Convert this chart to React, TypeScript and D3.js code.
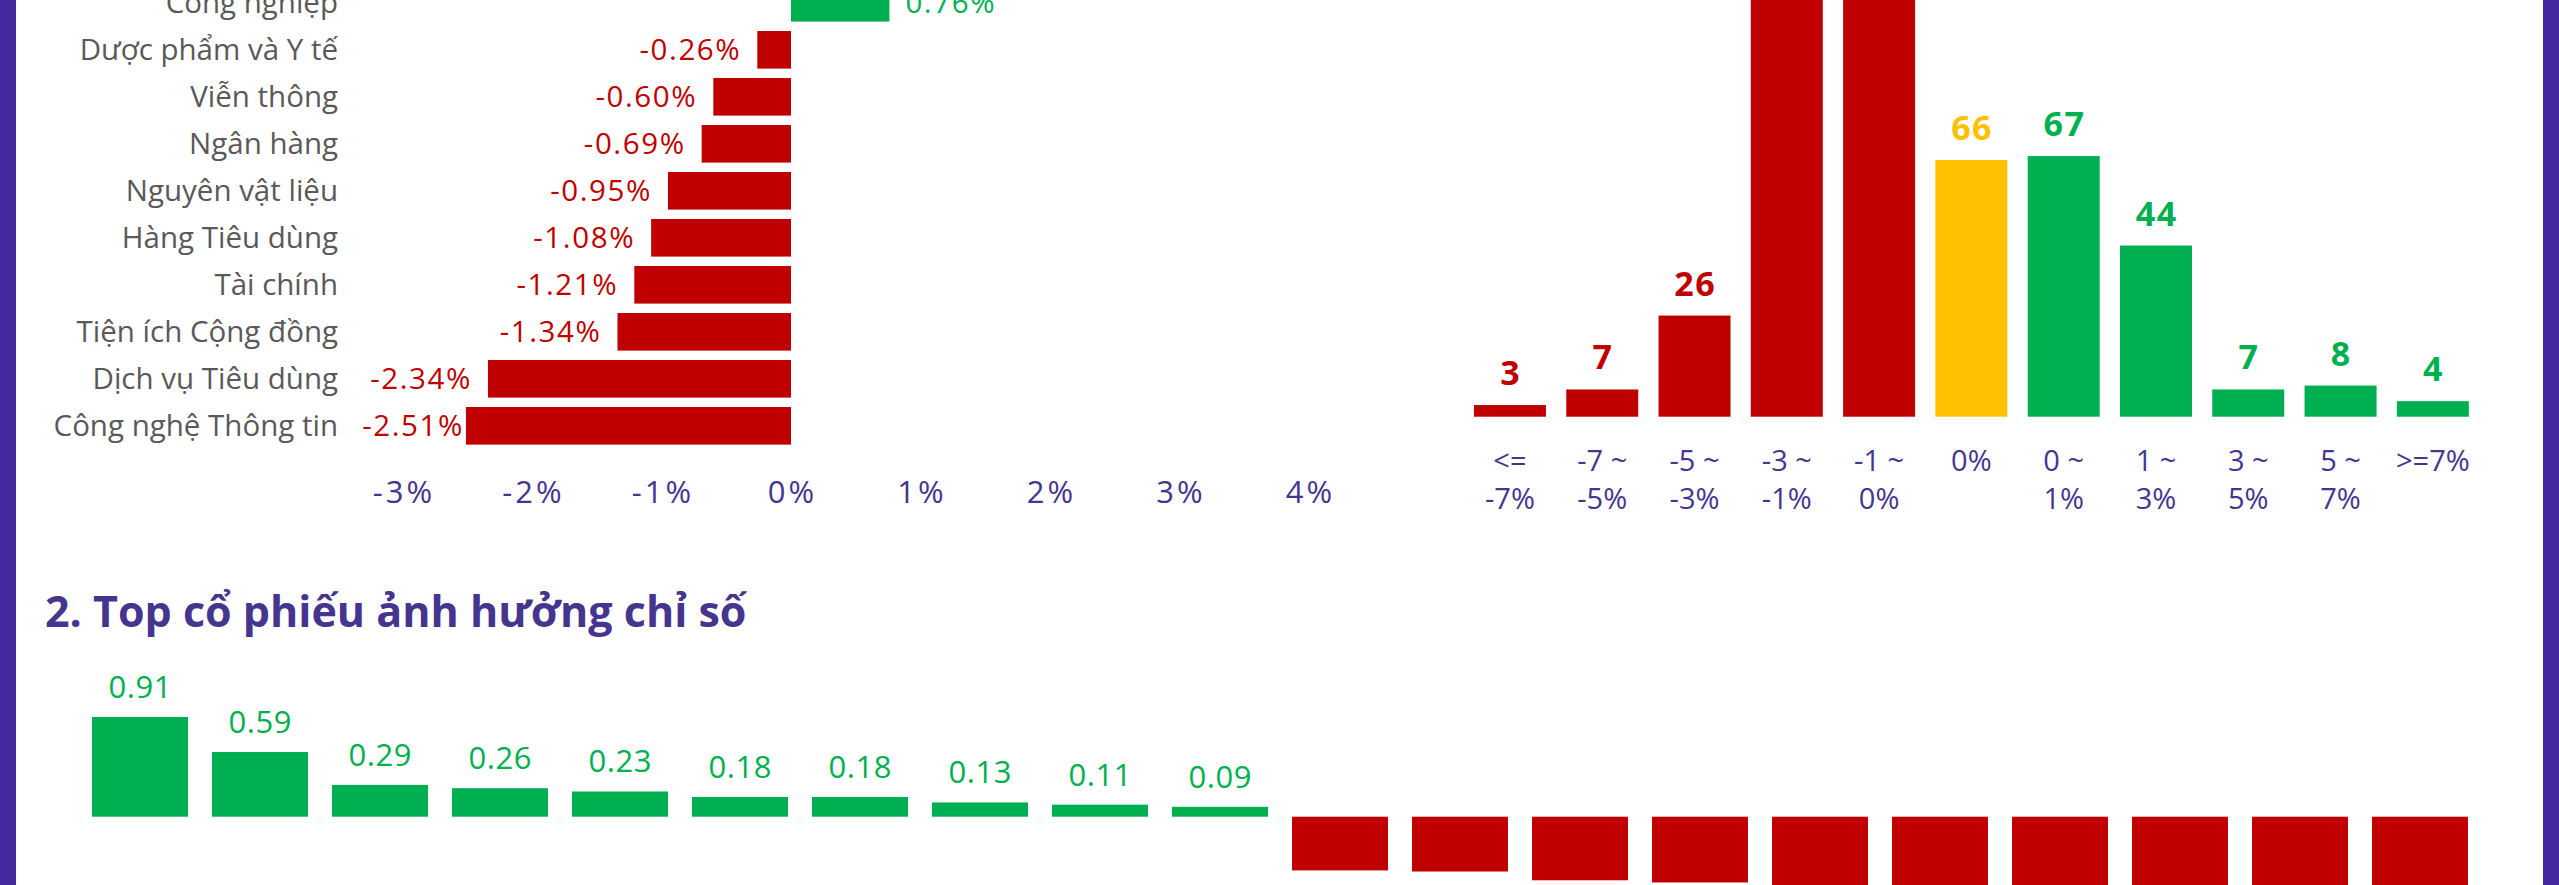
import React from 'react';
import * as d3 from 'd3';

// ---------- data ----------
const sectorNames = [
  'Công nghiệp',
  'Dược phẩm và Y tế',
  'Viễn thông',
  'Ngân hàng',
  'Nguyên vật liệu',
  'Hàng Tiêu dùng',
  'Tài chính',
  'Tiện ích Cộng đồng',
  'Dịch vụ Tiêu dùng',
  'Công nghệ Thông tin',
];
const sectorChanges = [0.76, -0.26, -0.6, -0.69, -0.95, -1.08, -1.21, -1.34, -2.34, -2.51];
const sectorTicks = [-3, -2, -1, 0, 1, 2, 3, 4];

const rangeLine1 = ['<=', '-7 ~', '-5 ~', '-3 ~', '-1 ~', '0%', '0 ~', '1 ~', '3 ~', '5 ~', '>=7%'];
const rangeLine2 = ['-7%', '-5%', '-3%', '-1%', '0%', '', '1%', '3%', '5%', '7%', ''];
const rangeCounts = [3, 7, 26, 125, 140, 66, 67, 44, 7, 8, 4];
const rangeKinds = ['down', 'down', 'down', 'down', 'down', 'flat', 'up', 'up', 'up', 'up', 'up'];

const impactValues = [
  0.91, 0.59, 0.29, 0.26, 0.23, 0.18, 0.18, 0.13, 0.11, 0.09,
  -0.49, -0.5, -0.58, -0.6, -0.66, -0.72, -0.79, -0.88, -1.02, -1.31,
];
const sectionTitle = '2. Top cổ phiếu ảnh hưởng chỉ số';

// ---------- style ----------
const W = 2559;
const H = 885;
const RED = '#C00000';
const GREEN = '#00B050';
const YELLOW = '#FFC000';
const FRAME = '#4527A0';
const AXIS_TEXT = '#45358F';
const GRAY = '#595959';
const FONT = "'Open Sans', Lato, sans-serif";
const TITLE_FONT = "'Open Sans', Lato, sans-serif";

const kindColor = (k: string) => (k === 'down' ? RED : k === 'flat' ? YELLOW : GREEN);

export default function App() {
  // ---- chart 1: sector horizontal bars ----
  const x1 = d3.scaleLinear().domain([-3, 4]).range([402.5, 1309]);
  const y1 = d3
    .scaleBand<string>()
    .domain(sectorNames)
    .range([-20.7, 449.3])
    .paddingInner(0.2)
    .paddingOuter(0.1);
  const labelRight = 338;
  const minLabelEnd = 464;

  // ---- chart 2: distribution histogram ----
  const x2 = d3
    .scaleBand<number>()
    .domain(d3.range(rangeCounts.length))
    .range([1463.8, 2479])
    .paddingInner(0.22)
    .paddingOuter(0.11);
  const y2 = d3.scaleLinear().domain([0, 100]).range([416.7, 27.7]);

  // ---- chart 3: top impact stocks ----
  const x3 = d3
    .scaleBand<number>()
    .domain(d3.range(impactValues.length))
    .range([80, 2480])
    .paddingInner(0.2)
    .paddingOuter(0.1);
  const y3 = d3.scaleLinear().domain([0, 1]).range([816.7, 707.1]);

  return (
    <svg
      width={W}
      height={H}
      viewBox={`0 0 ${W} ${H}`}
      style={{ position: 'absolute', left: 0, top: 0, background: '#fff', overflow: 'hidden' }}
      fontFamily={FONT}
    >
      <rect x={0} y={0} width={W} height={H} fill="#fff" />

      {/* Chart 1 */}
      <g>
        {sectorNames.map((name, i) => {
          const v = sectorChanges[i];
          const yb = y1(name) as number;
          const bh = y1.bandwidth();
          const cy = yb + bh / 2;
          const x0 = x1(0);
          const xv = x1(v);
          const pos = v >= 0;
          const label = `${v.toFixed(2)}%`;
          const lx = pos ? xv + 16 : Math.max(xv - 16, minLabelEnd);
          return (
            <g key={name}>
              <text
                x={labelRight}
                y={cy + 10}
                textAnchor="end"
                fontSize={29.5}
                fill={GRAY}
              >
                {name}
              </text>
              <rect
                x={Math.min(x0, xv)}
                y={yb}
                width={Math.abs(xv - x0)}
                height={bh}
                fill={pos ? GREEN : RED}
              />
              <text
                x={lx}
                y={cy + 10.5}
                textAnchor={pos ? 'start' : 'end'}
                fontSize={29.5}
                letterSpacing={1.6}
                fill={pos ? GREEN : RED}
              >
                {label}
              </text>
            </g>
          );
        })}
        {sectorTicks.map((t) => (
          <text
            key={t}
            x={x1(t) + 1.5}
            y={503}
            textAnchor="middle"
            fontSize={31}
            letterSpacing={3}
            fill={AXIS_TEXT}
          >
            {`${t}%`}
          </text>
        ))}
      </g>

      {/* Chart 2 */}
      <g>
        {rangeCounts.map((c, i) => {
          const bx = x2(i) as number;
          const bw = x2.bandwidth();
          const col = kindColor(rangeKinds[i]);
          return (
            <g key={i}>
              <rect x={bx} y={y2(c)} width={bw} height={y2(0) - y2(c)} fill={col} />
              <text
                x={bx + bw / 2 + 0.7}
                y={y2(c) - 20}
                textAnchor="middle"
                fontSize={34}
                fontWeight={700}
                letterSpacing={1.5}
                fill={col}
              >
                {c}
              </text>
              <text x={bx + bw / 2} y={471} textAnchor="middle" fontSize={29} fill={AXIS_TEXT}>
                {rangeLine1[i]}
              </text>
              {rangeLine2[i] && (
                <text x={bx + bw / 2} y={509} textAnchor="middle" fontSize={29} fill={AXIS_TEXT}>
                  {rangeLine2[i]}
                </text>
              )}
            </g>
          );
        })}
      </g>

      {/* Section title */}
      <text x={45} y={627.3} fontSize={43} fontWeight={700} fill={AXIS_TEXT} fontFamily={TITLE_FONT}>
        {sectionTitle}
      </text>

      {/* Chart 3 */}
      <g>
        {impactValues.map((v, i) => {
          const bx = x3(i) as number;
          const bw = x3.bandwidth();
          const pos = v >= 0;
          const top = Math.min(y3(0), y3(v));
          return (
            <g key={i}>
              <rect
                x={bx}
                y={top}
                width={bw}
                height={Math.abs(y3(v) - y3(0))}
                fill={pos ? GREEN : RED}
              />
              {pos && (
                <text
                  x={bx + bw / 2 + 0.3}
                  y={y3(v) - 19}
                  textAnchor="middle"
                  fontSize={31}
                  letterSpacing={0.6}
                  fill={GREEN}
                >
                  {v.toFixed(2)}
                </text>
              )}
            </g>
          );
        })}
      </g>

      {/* frame strips */}
      <rect x={0} y={0} width={16} height={H} fill={FRAME} />
      <rect x={2543} y={0} width={16} height={H} fill={FRAME} />
    </svg>
  );
}
